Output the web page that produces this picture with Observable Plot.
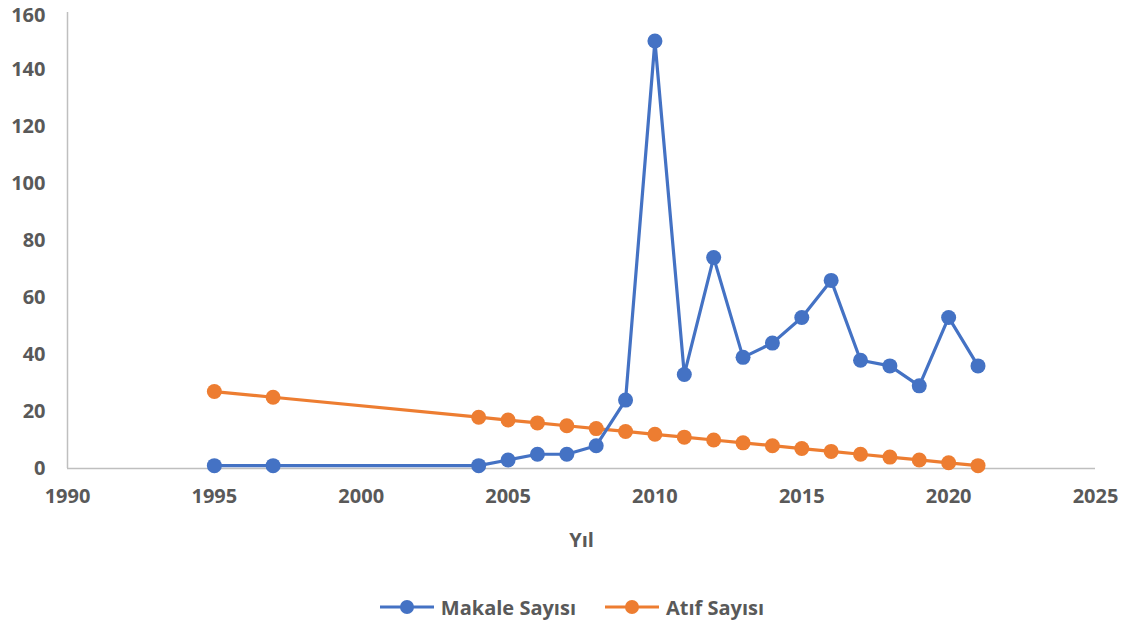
<!DOCTYPE html>
<html>
<head>
<meta charset="utf-8">
<script src="https://cdn.jsdelivr.net/npm/d3@7"></script>
<script src="https://cdn.jsdelivr.net/npm/@observablehq/plot@0.6"></script>
<style>
  html, body { margin: 0; padding: 0; background: #fff; }
  body { width: 1125px; height: 628px; overflow: hidden; font-family: "Open Sans", sans-serif; }
  #legend { display: flex; justify-content: center; align-items: center; gap: 28px; height: 40px; margin-top: 15px; margin-left: 18px;
    font-weight: 700; font-size: 20px; color: #595959; }
  .item { display: flex; align-items: center; gap: 6px; }
</style>
</head>
<body>
<div id="chart"></div>
<div id="legend"></div>
<script>
const years = [1995, 1997, 2004, 2005, 2006, 2007, 2008, 2009, 2010, 2011, 2012, 2013, 2014, 2015, 2016, 2017, 2018, 2019, 2020, 2021];
const makale = [1, 1, 1, 3, 5, 5, 8, 24, 150, 33, 74, 39, 44, 53, 66, 38, 36, 29, 53, 36];
const atif = [27, 25, 18, 17, 16, 15, 14, 13, 12, 11, 10, 9, 8, 7, 6, 5, 4, 3, 2, 1];
const xTicks = [1990, 1995, 2000, 2005, 2010, 2015, 2020, 2025];
const yTicks = [0, 20, 40, 60, 80, 100, 120, 140, 160];
const seriesNames = ["Makale Sayısı", "Atıf Sayısı"];
const colors = ["#4472C4", "#ED7D31"];

const makaleData = years.map((y, i) => ({year: y, value: makale[i]}));
const atifData = years.map((y, i) => ({year: y, value: atif[i]}));

const plot = Plot.plot({
  width: 1125,
  height: 572,
  marginLeft: 67,
  marginRight: 30,
  marginTop: 12,
  marginBottom: 104,
  style: { fontFamily: "Open Sans, sans-serif", fontSize: "20px", fontWeight: 700, color: "#595959", background: "#fff" },
  x: { domain: [1990, 2025] },
  y: { domain: [0, 160] },
  marks: [
    Plot.ruleY([0], { stroke: "#BFBFBF", strokeWidth: 1.5 }),
    Plot.ruleX([1990], { stroke: "#BFBFBF", strokeWidth: 1.5 }),
    Plot.axisX({ ticks: xTicks, tickFormat: d => String(d), tickSize: 0, tickPadding: 20, label: "Yıl", labelAnchor: "center", labelArrow: "none", labelOffset: 78, fill: "#595959", fontSize: 20 }),
    Plot.axisY({ ticks: yTicks.slice(0, -1), tickSize: 0, tickPadding: 22, label: null, fill: "#595959", fontSize: 20 }),
    Plot.axisY({ ticks: yTicks.slice(-1), tickSize: 0, tickPadding: 22, label: null, fill: "#595959", fontSize: 20, dy: 3 }),
    Plot.line(atifData, { x: "year", y: "value", stroke: colors[1], strokeWidth: 3.2 }),
    Plot.dot(atifData, { x: "year", y: "value", fill: colors[1], r: 7.5 }),
    Plot.line(makaleData, { x: "year", y: "value", stroke: colors[0], strokeWidth: 3.2 }),
    Plot.dot(makaleData, { x: "year", y: "value", fill: colors[0], r: 7.5 })
  ]
});
document.getElementById("chart").appendChild(plot);

const legend = document.getElementById("legend");
seriesNames.forEach((name, i) => {
  const item = document.createElement("div");
  item.className = "item";
  item.innerHTML = `<svg width="56" height="16"><line x1="1" y1="8" x2="55" y2="8" stroke="${colors[i]}" stroke-width="3"/><circle cx="28" cy="8" r="7" fill="${colors[i]}"/></svg><span>${name}</span>`;
  legend.appendChild(item);
});
</script>
</body>
</html>
